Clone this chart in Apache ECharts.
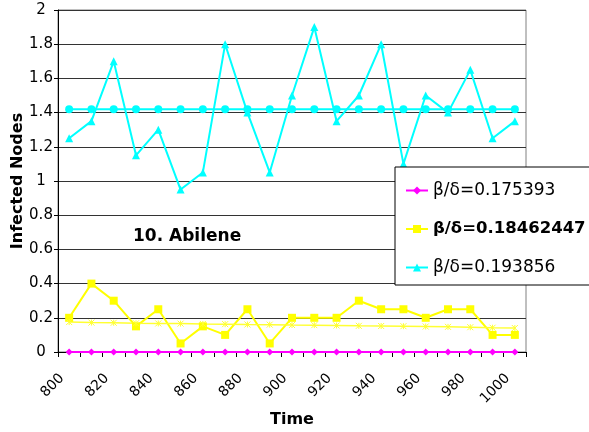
<!DOCTYPE html>
<html>
<head>
<meta charset="utf-8">
<script src="https://cdn.jsdelivr.net/npm/echarts@6/dist/echarts.min.js"></script>
<style>
  html, body { margin: 0; padding: 0; background: #fff; overflow: hidden; }
  #chart { width: 589px; height: 432px; }
</style>
</head>
<body>
<div id="chart"></div>
<script>
// Time steps on the category axis
const times = ['800','810','820','830','840','850','860','870','880','890','900',
               '910','920','930','940','950','960','970','980','990','1000'];

// Series names (legend entries)
const nameLow  = 'β/δ=0.175393';
const nameMid  = 'β/δ=0.18462447';
const nameHigh = 'β/δ=0.193856';

// Infected nodes per time step
const lowValues  = [0,0,0,0,0,0,0,0,0,0,0,0,0,0,0,0,0,0,0,0,0];
const midValues  = [0.2,0.4,0.3,0.15,0.25,0.05,0.15,0.1,0.25,0.05,0.2,
                    0.2,0.2,0.3,0.25,0.25,0.2,0.25,0.25,0.1,0.1];
const highValues = [1.25,1.35,1.7,1.15,1.3,0.95,1.05,1.8,1.4,1.05,1.5,
                    1.9,1.35,1.5,1.8,1.1,1.5,1.4,1.65,1.25,1.35];

// Model predictions for the mid and high cases
const midModel  = [0.175,0.172,0.171,0.168,0.167,0.166,0.164,0.163,0.161,0.160,0.158,
                   0.157,0.155,0.153,0.152,0.151,0.149,0.147,0.145,0.142,0.140];
const highModel = [1.42,1.42,1.42,1.42,1.42,1.42,1.42,1.42,1.42,1.42,1.42,
                   1.42,1.42,1.42,1.42,1.42,1.42,1.42,1.42,1.42,1.42];

const FONT = "'DejaVu Sans', 'Liberation Sans', Arial, sans-serif";
const asterisk = 'path://M0,0L10,10M10,0L0,10M5,0L5,10';

const chart = echarts.init(document.getElementById('chart'), null, { renderer: 'canvas' });

chart.setOption({
  backgroundColor: '#ffffff',
  animation: false,
  textStyle: { fontFamily: FONT },
  title: {
    text: '10. Abilene',
    left: 133,
    top: 228,
    padding: 0,
    textStyle: { fontFamily: FONT, fontSize: 17, fontWeight: 'bold', color: '#000' }
  },
  grid: {
    left: 58, right: 63, top: 10, bottom: 80,
    containLabel: false,
    outerBoundsMode: 'none',
    show: true, borderColor: '#808080', borderWidth: 1, backgroundColor: 'transparent'
  },
  legend: {
    data: [nameLow, nameMid, nameHigh],
    orient: 'vertical',
    left: 395,
    top: 167,
    padding: [15, 40, 9, 10],
    itemWidth: 22,
    itemHeight: 10,
    itemGap: 21.5,
    backgroundColor: '#ffffff',
    borderColor: '#000000',
    borderWidth: 1,
    borderRadius: 0,
    textStyle: {
      fontFamily: FONT, fontSize: 17, color: '#000',
      rich: { b: { fontFamily: FONT, fontSize: 16.5, fontWeight: 'bold', color: '#000' } }
    },
    formatter: function (n) { return n === nameMid ? '{b|' + n + '}' : n; }
  },
  xAxis: {
    type: 'category',
    data: times,
    boundaryGap: true,
    name: 'Time',
    nameLocation: 'middle',
    nameGap: 60,
    nameMoveOverlap: false,
    nameTextStyle: { fontFamily: FONT, fontSize: 16, fontWeight: 'bold', color: '#000' },
    axisLine: { lineStyle: { color: '#000', width: 1 } },
    axisTick: { show: true, interval: 0, length: 5, lineStyle: { color: '#000' } },
    axisLabel: {
      interval: 1, rotate: 45, margin: 17, padding: [0, 10, 0, 0],
      fontFamily: FONT, fontSize: 14, color: '#000'
    },
    splitLine: { show: false }
  },
  yAxis: {
    type: 'value',
    min: 0, max: 2, interval: 0.2,
    name: 'Infected Nodes',
    nameLocation: 'middle',
    nameGap: 32,
    nameMoveOverlap: false,
    nameTextStyle: { fontFamily: FONT, fontSize: 16, fontWeight: 'bold', color: '#000' },
    axisLine: { show: true, lineStyle: { color: '#000', width: 1 } },
    axisTick: { show: true, length: 4, lineStyle: { color: '#000' } },
    axisLabel: { margin: 17, align: 'center', fontFamily: FONT, fontSize: 15, color: '#000' },
    splitLine: { show: true, lineStyle: { color: '#333', width: 1 } }
  },
  series: [
    {
      name: nameLow, type: 'line', data: lowValues,
      symbol: 'diamond', symbolSize: 7,
      lineStyle: { color: '#FF00FF', width: 2 },
      itemStyle: { color: '#FF00FF' }, z: 3
    },
    {
      name: nameMid, type: 'line', data: midValues,
      symbol: 'rect', symbolSize: 8,
      lineStyle: { color: '#FFFF00', width: 2 },
      itemStyle: { color: '#FFFF00' }, z: 3
    },
    {
      name: nameHigh, type: 'line', data: highValues,
      symbol: 'triangle', symbolSize: 8,
      lineStyle: { color: '#00FFFF', width: 2 },
      itemStyle: { color: '#00FFFF' }, z: 3
    },
    {
      name: 'model high', type: 'line', data: highModel,
      symbol: 'circle', symbolSize: 8,
      lineStyle: { color: '#00FFFF', width: 2 },
      itemStyle: { color: '#00FFFF' }, z: 3
    },
    {
      name: 'model mid', type: 'line', data: midModel,
      symbol: asterisk, symbolSize: 6,
      lineStyle: { color: '#FFFF33', width: 1.5 },
      itemStyle: { color: '#FFFF33', borderColor: '#FFFF33', borderWidth: 1 }, z: 3
    }
  ]
});
</script>
</body>
</html>
